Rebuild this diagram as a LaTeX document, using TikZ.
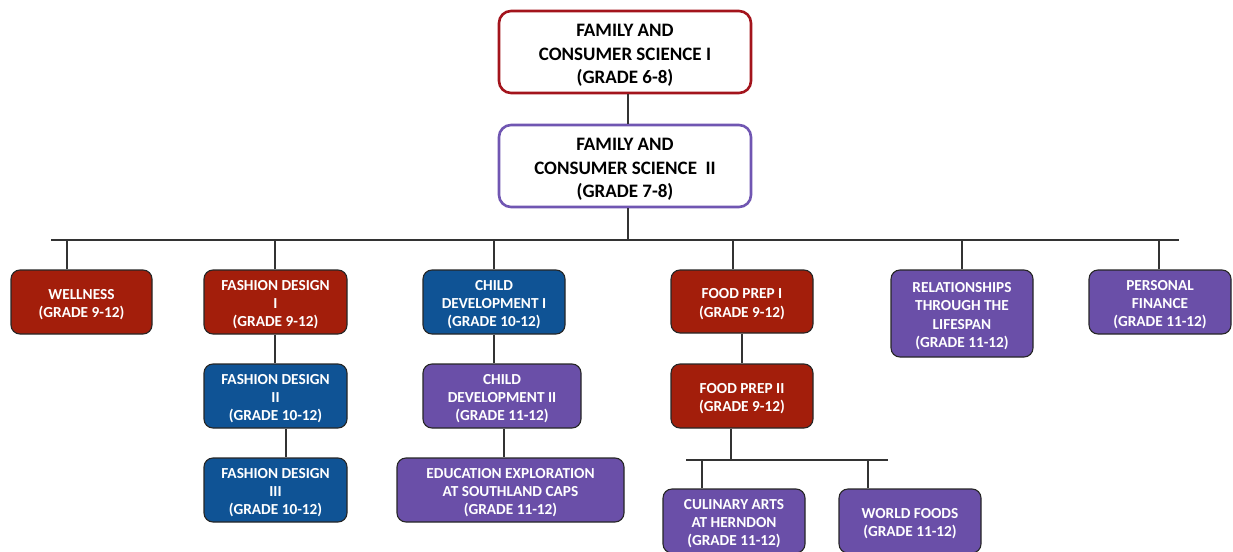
\documentclass[tikz,border=0pt]{standalone}
\usepackage{fontspec}
\setmainfont{Carlito}
\definecolor{cred}{HTML}{A31E0B}
\definecolor{cblue}{HTML}{0F5395}
\definecolor{cpurp}{HTML}{6A4FA8}
\definecolor{topred}{HTML}{A3141C}
\definecolor{toppurp}{HTML}{7056B2}
\definecolor{lnk}{HTML}{333333}
\newcommand\padT{\rule{0pt}{19pt}}
\newcommand\padB{\rule{0pt}{15.5pt}}
\begin{document}
\begin{tikzpicture}[x=1pt,y=-1pt,
  topbox/.style={rounded corners=12pt, line width=2.6pt, fill=white, text=black,
    font=\bfseries\fontsize{19}{23.5}\selectfont, align=center, inner sep=0pt,
    minimum width=252, minimum height=82},
  box/.style={rounded corners=9pt, draw=black!85, line width=1.1pt, text=white,
    font=\bfseries\fontsize{15.3}{18.3}\selectfont, align=center, inner sep=0pt},
  link/.style={draw=lnk, line width=1.3pt}]
\useasboundingbox (0,0) rectangle (1233,551);
% top boxes
\node[topbox, draw=topred] (fcs1) at (625,52) {\padT FAMILY AND\\CONSUMER SCIENCE I\\(GRADE 6-8)};
\node[topbox, draw=toppurp] (fcs2) at (625,166) {\padT FAMILY AND\\CONSUMER SCIENCE\ \ II\\(GRADE 7-8)};
% row 1
\node[box, fill=cred, minimum width=141, minimum height=64] (well) at (81.5,302) {\padB WELLNESS\\(GRADE 9-12)};
\node[box, fill=cred, minimum width=143, minimum height=64] (fd1) at (275.5,302) {\padB FASHION DESIGN\\I\\(GRADE 9-12)};
\node[box, fill=cblue, minimum width=142, minimum height=64] (cd1) at (494,302) {\padB CHILD\\DEVELOPMENT I\\(GRADE 10-12)};
\node[box, fill=cred, minimum width=142, minimum height=63] (fp1) at (742,301.5) {\padB FOOD PREP I\\(GRADE 9-12)};
\node[box, fill=cpurp, minimum width=142, minimum height=87] (rel) at (962,313.5) {\padB RELATIONSHIPS\\THROUGH THE\\LIFESPAN\\(GRADE 11-12)};
\node[box, fill=cpurp, minimum width=142, minimum height=64] (pf) at (1160,302) {\padB PERSONAL\\FINANCE\\(GRADE 11-12)};
% row 2
\node[box, fill=cblue, minimum width=143, minimum height=64] (fd2) at (275.5,396) {\padB FASHION DESIGN\\II\\(GRADE 10-12)};
\node[box, fill=cpurp, minimum width=158, minimum height=64] (cd2) at (502,396) {\padB CHILD\\DEVELOPMENT II\\(GRADE 11-12)};
\node[box, fill=cred, minimum width=142, minimum height=64] (fp2) at (742,396) {\padB FOOD PREP II\\(GRADE 9-12)};
% row 3
\node[box, fill=cblue, minimum width=143, minimum height=64] (fd3) at (275.5,490) {\padB FASHION DESIGN\\III\\(GRADE 10-12)};
\node[box, fill=cpurp, minimum width=227, minimum height=64] (edu) at (510.5,490) {\padB EDUCATION EXPLORATION\\AT SOUTHLAND CAPS\\(GRADE 11-12)};
\node[box, fill=cpurp, minimum width=142, minimum height=64] (cul) at (734,521) {\padB CULINARY ARTS\\AT HERNDON\\(GRADE 11-12)};
\node[box, fill=cpurp, minimum width=142, minimum height=64] (wf) at (910,521) {\padB WORLD FOODS\\(GRADE 11-12)};
% buses
\coordinate (busL) at (51,240);
\coordinate (busR) at (1179,240);
\coordinate (fbL) at (686,460);
\coordinate (fbR) at (888,460);
\draw[link] (busL) -- (busR);
\draw[link] (fbL) -- (fbR);
% connectors
\draw[link] ([xshift=3pt]fcs1.south) -- ([xshift=3pt]fcs2.north);
\draw[link] ([xshift=3pt]fcs2.south) -- ([xshift=3pt]fcs2.south |- busL);
\draw[link] ([xshift=-14.5pt]well.north) -- ([xshift=-14.5pt]well.north |- busL);
\draw[link] ([xshift=-0.5pt]fd1.north) -- ([xshift=-0.5pt]fd1.north |- busL);
\draw[link] (cd1.north) -- (cd1.north |- busL);
\draw[link] ([xshift=-9pt]fp1.north) -- ([xshift=-9pt]fp1.north |- busL);
\draw[link] (rel.north) -- (rel.north |- busL);
\draw[link] ([xshift=-1pt]pf.north) -- ([xshift=-1pt]pf.north |- busL);
\draw[link] ([xshift=-0.5pt]fd1.south) -- ([xshift=-0.5pt]fd2.north);
\draw[link] ([xshift=10.5pt]fd2.south) -- ([xshift=10.5pt]fd3.north);
\draw[link] (cd1.south) -- (cd1.south |- cd2.north);
\draw[link] ([xshift=2pt]cd2.south) -- ([xshift=2pt]cd2.south |- edu.north);
\draw[link] (fp1.south) -- (fp2.north);
\draw[link] ([xshift=-11pt]fp2.south) -- ([xshift=-11pt]fp2.south |- fbL);
\draw[link] ([xshift=-32pt]cul.north) -- ([xshift=-32pt]cul.north |- fbL);
\draw[link] ([xshift=-42pt]wf.north) -- ([xshift=-42pt]wf.north |- fbL);
\end{tikzpicture}
\end{document}
